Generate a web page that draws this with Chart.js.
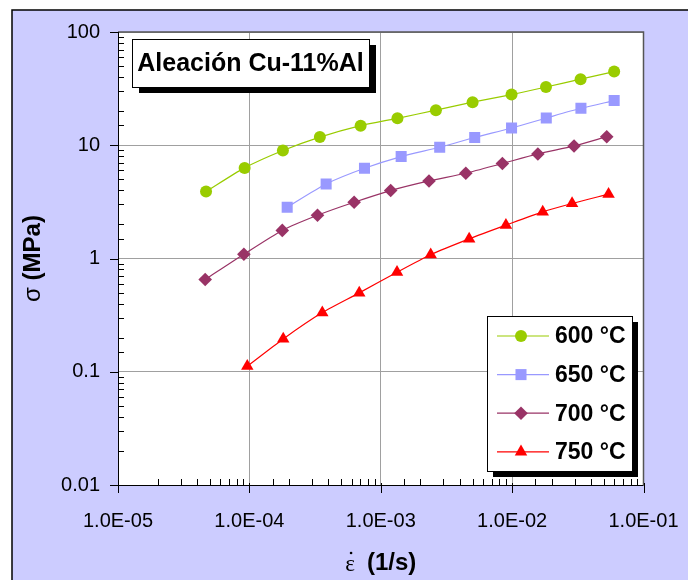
<!DOCTYPE html>
<html>
<head>
<meta charset="utf-8">
<script src="https://cdn.jsdelivr.net/npm/chart.js@4/dist/chart.umd.min.js"></script>
<style>
  html, body { margin: 0; padding: 0; background: #ffffff; }
  #wrap { width: 688px; height: 580px; }
</style>
</head>
<body>
<div id="wrap"><canvas id="chart" width="688" height="580"></canvas></div>
<script>
// strain rate (1/s) and stress (MPa)
const rate600 = [4.68e-5, 9.2e-5, 1.80e-4, 3.44e-4, 7.03e-4, 1.34e-3, 2.63e-3, 5.0e-3, 9.9e-3, 1.81e-2, 3.32e-2, 5.98e-2];
const sigma600 = [3.90, 6.31, 8.98, 11.8, 14.9, 17.3, 20.4, 24.0, 28.0, 32.7, 38.3, 44.7];

const rate650 = [1.94e-4, 3.84e-4, 7.52e-4, 1.43e-3, 2.81e-3, 5.19e-3, 9.9e-3, 1.82e-2, 3.34e-2, 5.98e-2];
const sigma650 = [2.84, 4.55, 6.26, 7.94, 9.6, 11.7, 14.2, 17.4, 21.2, 24.8];

const rate700 = [4.61e-5, 9.08e-5, 1.78e-4, 3.30e-4, 6.27e-4, 1.19e-3, 2.33e-3, 4.44e-3, 8.43e-3, 1.57e-2, 2.96e-2, 5.25e-2];
const sigma700 = [0.653, 1.09, 1.77, 2.41, 3.14, 3.98, 4.84, 5.66, 6.90, 8.38, 9.86, 11.9];

const rate750 = [9.64e-5, 1.81e-4, 3.59e-4, 6.86e-4, 1.33e-3, 2.40e-3, 4.71e-3, 8.97e-3, 1.71e-2, 2.86e-2, 5.42e-2];
const sigma750 = [0.112, 0.195, 0.333, 0.497, 0.757, 1.08, 1.49, 1.97, 2.58, 3.06, 3.70];

const seriesLabels = ['600 °C', '650 °C', '700 °C', '750 °C'];

// tick labels by decade exponent
const xTickLabels = { '-5': '1.0E-05', '-4': '1.0E-04', '-3': '1.0E-03', '-2': '1.0E-02', '-1': '1.0E-01' };
const yTickLabels = { '-2': '0.01', '-1': '0.1', '0': '1', '1': '10', '2': '100' };

const chartTitle = 'Aleación Cu-11%Al';

const FONT = '"Liberation Sans", Arial, sans-serif';

function toPoints(xs, ys) {
    return xs.map((x, i) => ({ x: x, y: ys[i] }));
}

function decade(v) {
    const l = Math.log10(v);
    const r = Math.round(l);
    return Math.abs(l - r) < 1e-6 ? r : null;
}

const styles = [
    { color: '#99CC00', pointStyle: 'circle', radius: 6 },
    { color: '#9999FF', pointStyle: 'rect', radius: 7.8 },
    { color: '#993366', pointStyle: 'rectRot', radius: 6.8 },
    { color: '#FF0000', pointStyle: 'triangle', radius: 7.2 }
];

const allData = [
    toPoints(rate600, sigma600),
    toPoints(rate650, sigma650),
    toPoints(rate700, sigma700),
    toPoints(rate750, sigma750)
];

const datasets = allData.map((d, i) => ({
    label: seriesLabels[i],
    data: d,
    borderColor: styles[i].color,
    backgroundColor: styles[i].color,
    pointBackgroundColor: styles[i].color,
    pointBorderColor: styles[i].color,
    pointBorderWidth: 0,
    pointStyle: styles[i].pointStyle,
    pointRadius: styles[i].radius,
    pointHoverRadius: styles[i].radius,
    borderWidth: 1.2,
    tension: 0.25,
    fill: false
}));

function drawMarker(ctx, st, x, y) {
    ctx.save();
    ctx.fillStyle = st.color;
    ctx.strokeStyle = st.color;
    if (Chart.helpers && Chart.helpers.drawPoint) {
        Chart.helpers.drawPoint(ctx, { pointStyle: st.pointStyle, radius: st.radius, rotation: 0, borderWidth: 0 }, x, y);
    } else {
        ctx.beginPath();
        ctx.arc(x, y, st.radius, 0, Math.PI * 2);
        ctx.fill();
    }
    ctx.restore();
}

const decorPlugin = {
    id: 'decor',
    beforeDraw(chart) {
        const ctx = chart.ctx;
        const a = chart.chartArea;
        ctx.save();
        ctx.fillStyle = '#ffffff';
        ctx.fillRect(0, 0, chart.width, chart.height);
        ctx.fillStyle = '#CCCCFF';
        ctx.fillRect(12, 10, chart.width, chart.height);
        ctx.strokeStyle = '#000000';
        ctx.lineWidth = 1.5;
        ctx.strokeRect(12, 10, chart.width + 10, chart.height + 10);
        ctx.fillStyle = '#ffffff';
        ctx.fillRect(a.left, a.top, a.right - a.left, a.bottom - a.top);
        ctx.restore();
    },
    afterDraw(chart) {
        const ctx = chart.ctx;
        const a = chart.chartArea;
        const xs = chart.scales.x;
        const ys = chart.scales.y;
        ctx.save();

        // plot frame top/right
        ctx.strokeStyle = '#555555';
        ctx.lineWidth = 1.5;
        ctx.beginPath();
        ctx.moveTo(a.left, a.top);
        ctx.lineTo(a.right, a.top);
        ctx.lineTo(a.right, a.bottom);
        ctx.stroke();

        // axis lines and tick marks
        ctx.strokeStyle = '#000000';
        ctx.lineWidth = 1;
        ctx.beginPath();
        ctx.moveTo(a.left + 0.5, a.top);
        ctx.lineTo(a.left + 0.5, a.bottom + 0.5);
        ctx.lineTo(a.right, a.bottom + 0.5);
        ys.ticks.forEach(t => {
            const p = Math.round(ys.getPixelForValue(t.value)) + 0.5;
            if (decade(t.value) !== null) {
                ctx.moveTo(a.left - 8, p);
                ctx.lineTo(a.left + 1, p);
            } else {
                ctx.moveTo(a.left, p);
                ctx.lineTo(a.left + 6, p);
            }
        });
        xs.ticks.forEach(t => {
            const p = Math.round(xs.getPixelForValue(t.value)) + 0.5;
            if (decade(t.value) !== null) {
                ctx.moveTo(p, a.bottom - 2);
                ctx.lineTo(p, a.bottom + 8);
            } else {
                ctx.moveTo(p, a.bottom);
                ctx.lineTo(p, a.bottom - 6);
            }
        });
        ctx.stroke();

        // title box
        const tb = { x: 132, y: 39, w: 237, h: 48 };
        ctx.fillStyle = '#000000';
        ctx.fillRect(tb.x + 7, tb.y + 6, tb.w, tb.h);
        ctx.fillStyle = '#ffffff';
        ctx.fillRect(tb.x, tb.y, tb.w, tb.h);
        ctx.strokeStyle = '#000000';
        ctx.lineWidth = 1;
        ctx.strokeRect(tb.x + 0.5, tb.y + 0.5, tb.w, tb.h);
        ctx.fillStyle = '#000000';
        ctx.font = 'bold 25px ' + FONT;
        ctx.textAlign = 'center';
        ctx.textBaseline = 'middle';
        ctx.fillText(chartTitle, tb.x + tb.w / 2, tb.y + tb.h / 2 + 1);

        // legend box
        const lb = { x: 487, y: 316, w: 145, h: 155 };
        ctx.fillStyle = '#000000';
        ctx.fillRect(lb.x + 6, lb.y + 6, lb.w, lb.h);
        ctx.fillStyle = '#ffffff';
        ctx.fillRect(lb.x, lb.y, lb.w, lb.h);
        ctx.strokeStyle = '#000000';
        ctx.lineWidth = 1;
        ctx.strokeRect(lb.x + 0.5, lb.y + 0.5, lb.w, lb.h);
        chart.data.datasets.forEach((ds, i) => {
            const y = 336 + i * 38.6;
            ctx.strokeStyle = styles[i].color;
            ctx.lineWidth = 1.2;
            ctx.beginPath();
            ctx.moveTo(497, y);
            ctx.lineTo(549, y);
            ctx.stroke();
            drawMarker(ctx, styles[i], 521, y);
            ctx.fillStyle = '#000000';
            ctx.font = 'bold 23px ' + FONT;
            ctx.textAlign = 'left';
            ctx.textBaseline = 'middle';
            ctx.fillText(ds.label, 555, y + 1);
        });

        // axis titles
        ctx.fillStyle = '#000000';
        ctx.textBaseline = 'middle';
        // x title: epsilon-dot (1/s)
        ctx.font = 'bold 24px ' + FONT;
        const xt = '(1/s)';
        const xtw = ctx.measureText(xt).width;
        ctx.font = '23px "Liberation Serif", serif';
        const ew = ctx.measureText('ε').width;
        const gap = 12;
        const total = ew + gap + xtw;
        const cx = (a.left + a.right) / 2;
        let sx = cx - total / 2;
        ctx.textAlign = 'left';
        ctx.fillText('ε', sx, 565);
        ctx.beginPath();
        ctx.arc(sx + ew / 2 + 1, 553, 1.3, 0, Math.PI * 2);
        ctx.fill();
        ctx.font = 'bold 24px ' + FONT;
        ctx.fillText(xt, sx + ew + gap, 563);

        // y title: sigma (MPa)
        ctx.save();
        ctx.translate(33, (a.top + a.bottom) / 2);
        ctx.rotate(-Math.PI / 2);
        ctx.font = '24px ' + FONT;
        const sw = ctx.measureText('σ ').width;
        ctx.font = 'bold 24px ' + FONT;
        const mw = ctx.measureText('(MPa)').width;
        const st = -(sw + mw) / 2;
        ctx.font = '24px ' + FONT;
        ctx.textAlign = 'left';
        ctx.fillText('σ ', st, 0);
        ctx.font = 'bold 24px ' + FONT;
        ctx.fillText('(MPa)', st + sw, 0);
        ctx.restore();

        ctx.restore();
    }
};

new Chart(document.getElementById('chart').getContext('2d'), {
    type: 'line',
    data: { datasets: datasets },
    options: {
        responsive: false,
        animation: false,
        events: [],
        layout: { padding: { left: 0, right: 44.5, top: 32, bottom: 0 } },
        plugins: {
            legend: { display: false },
            title: { display: false },
            tooltip: { enabled: false }
        },
        scales: {
            x: {
                type: 'logarithmic',
                min: 1e-5,
                max: 1e-1,
                border: { display: false },
                grid: {
                    drawTicks: false,
                    lineWidth: 1,
                    color: ctx => (ctx.tick && decade(ctx.tick.value) !== null) ? '#A0A0A0' : 'rgba(0,0,0,0)'
                },
                ticks: {
                    autoSkip: false,
                    maxRotation: 0,
                    padding: 24,
                    color: '#000000',
                    font: { family: FONT, size: 20 },
                    callback: v => {
                        const d = decade(v);
                        return d !== null && xTickLabels[d] ? xTickLabels[d] : '';
                    }
                },
                afterFit: scale => {
                    scale.height = 95;
                    scale.paddingLeft = 0;
                    scale.paddingRight = 0;
                }
            },
            y: {
                type: 'logarithmic',
                min: 0.01,
                max: 100,
                border: { display: false },
                grid: {
                    drawTicks: false,
                    lineWidth: 1,
                    color: ctx => (ctx.tick && decade(ctx.tick.value) !== null) ? '#A0A0A0' : 'rgba(0,0,0,0)'
                },
                ticks: {
                    autoSkip: false,
                    padding: 18,
                    color: '#000000',
                    font: { family: FONT, size: 20 },
                    callback: v => {
                        const d = decade(v);
                        return d !== null && yTickLabels[d] ? yTickLabels[d] : '';
                    }
                },
                afterFit: scale => {
                    scale.width = 118;
                    scale.paddingTop = 0;
                    scale.paddingBottom = 0;
                }
            }
        }
    },
    plugins: [decorPlugin]
});
</script>
</body>
</html>
